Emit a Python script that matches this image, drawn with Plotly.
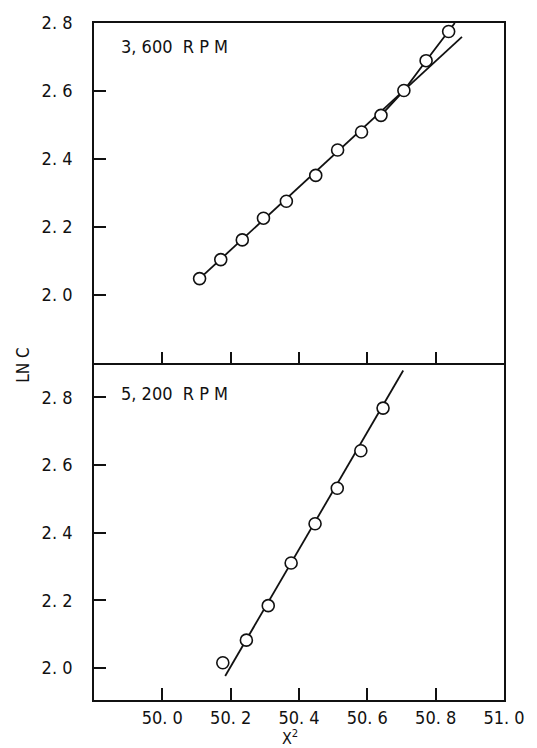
import plotly.graph_objects as go

# ---- data ----
x_3600 = [50.109, 50.171, 50.234, 50.296, 50.363, 50.449, 50.513, 50.583, 50.640, 50.707, 50.772, 50.838]
y_3600 = [2.047, 2.103, 2.161, 2.225, 2.275, 2.351, 2.426, 2.479, 2.528, 2.601, 2.689, 2.775]
# straight fit line for 3,600 RPM (endpoints)
fit_x_3600 = [50.109, 50.877]
fit_y_3600 = [2.047, 2.759]
# curved continuation through the upper points
curve_x_3600 = [50.640, 50.707, 50.772, 50.838, 50.856]
curve_y_3600 = [2.528, 2.601, 2.689, 2.775, 2.800]

x_5200 = [50.177, 50.246, 50.310, 50.377, 50.447, 50.512, 50.581, 50.646]
y_5200 = [2.015, 2.082, 2.184, 2.310, 2.426, 2.531, 2.642, 2.768]
fit_x_5200 = [50.184, 50.705]
fit_y_5200 = [1.976, 2.879]

x_tickvals = [50.0, 50.2, 50.4, 50.6, 50.8, 51.0]
x_ticktext = ["50. 0", "50. 2", "50. 4", "50. 6", "50. 8", "51. 0"]
y_tickvals = [2.0, 2.2, 2.4, 2.6, 2.8]
y_ticktext = ["2. 0", "2. 2", "2. 4", "2. 6", "2. 8"]

FONT = "DejaVu Sans Condensed, DejaVu Sans, sans-serif"
BLACK = "#111111"

fig = go.Figure()

line_style = dict(color=BLACK, width=1.8)
marker_style = dict(symbol="circle", size=12, color="white", line=dict(color=BLACK, width=1.6))

# top panel
fig.add_trace(go.Scatter(x=fit_x_3600, y=fit_y_3600, mode="lines", line=line_style,
                         xaxis="x2", yaxis="y2", showlegend=False))
fig.add_trace(go.Scatter(x=curve_x_3600, y=curve_y_3600, mode="lines", line=line_style,
                         xaxis="x2", yaxis="y2", showlegend=False))
fig.add_trace(go.Scatter(x=x_3600, y=y_3600, mode="markers", marker=marker_style,
                         xaxis="x2", yaxis="y2", showlegend=False, cliponaxis=False))

# bottom panel
fig.add_trace(go.Scatter(x=fit_x_5200, y=fit_y_5200, mode="lines", line=line_style,
                         xaxis="x", yaxis="y", showlegend=False))
fig.add_trace(go.Scatter(x=x_5200, y=y_5200, mode="markers", marker=marker_style,
                         xaxis="x", yaxis="y", showlegend=False, cliponaxis=False))

L, R, T, B = 94, 25, 14, 48
W, H = 537, 748
plot_h = H - T - B
split = (700 - 359) / plot_h

axis_common = dict(showgrid=False, zeroline=False, linecolor=BLACK, linewidth=1.8,
                   ticks="inside", ticklen=12, tickwidth=1.8, tickcolor=BLACK,
                   tickfont=dict(family=FONT, size=18, color=BLACK))

fig.update_layout(
    width=W, height=H,
    margin=dict(l=L, r=R, t=T, b=B),
    paper_bgcolor="white", plot_bgcolor="white",
    xaxis=dict(axis_common, range=[49.8, 51.0], tickvals=x_tickvals,
               ticktext=x_ticktext, domain=[0, 1], anchor="y", mirror=False,
               ticklabelstandoff=0),
    yaxis=dict(axis_common, range=[1.905, 2.9], tickvals=y_tickvals, ticktext=y_ticktext,
               domain=[0, split], anchor="x", mirror=True, ticklabelstandoff=16),
    xaxis2=dict(axis_common, range=[49.8, 51.0], tickvals=x_tickvals[:-1],
                showticklabels=False, domain=[0, 1], anchor="y2", mirror=True),
    yaxis2=dict(axis_common, range=[1.797, 2.8], tickvals=y_tickvals, ticktext=y_ticktext,
                domain=[split, 1], anchor="x2", mirror=True, ticklabelstandoff=16),
    annotations=[
        dict(text="3, 600  R P M", x=(119 - L) / 418, y=(700 - 38) / plot_h, xref="paper", yref="paper",
             xanchor="left", yanchor="middle", showarrow=False,
             font=dict(family=FONT, size=18, color=BLACK)),
        dict(text="5, 200  R P M", x=(119 - L) / 418, y=(700 - 389) / plot_h, xref="paper", yref="paper",
             xanchor="left", yanchor="middle", showarrow=False,
             font=dict(family=FONT, size=18, color=BLACK)),
        dict(text="LN C", x=(22 - L) / 418, y=(700 - 360) / plot_h, xref="paper", yref="paper",
             xanchor="center", yanchor="middle", showarrow=False, textangle=-90,
             font=dict(family=FONT, size=17, color=BLACK)),
        dict(text="X<sup>2</sup>", x=(294 - L) / 418, y=(700 - 738) / plot_h, xref="paper", yref="paper",
             xanchor="center", yanchor="middle", showarrow=False,
             font=dict(family=FONT, size=16, color=BLACK)),
    ],
)

fig.write_html("out.html")
